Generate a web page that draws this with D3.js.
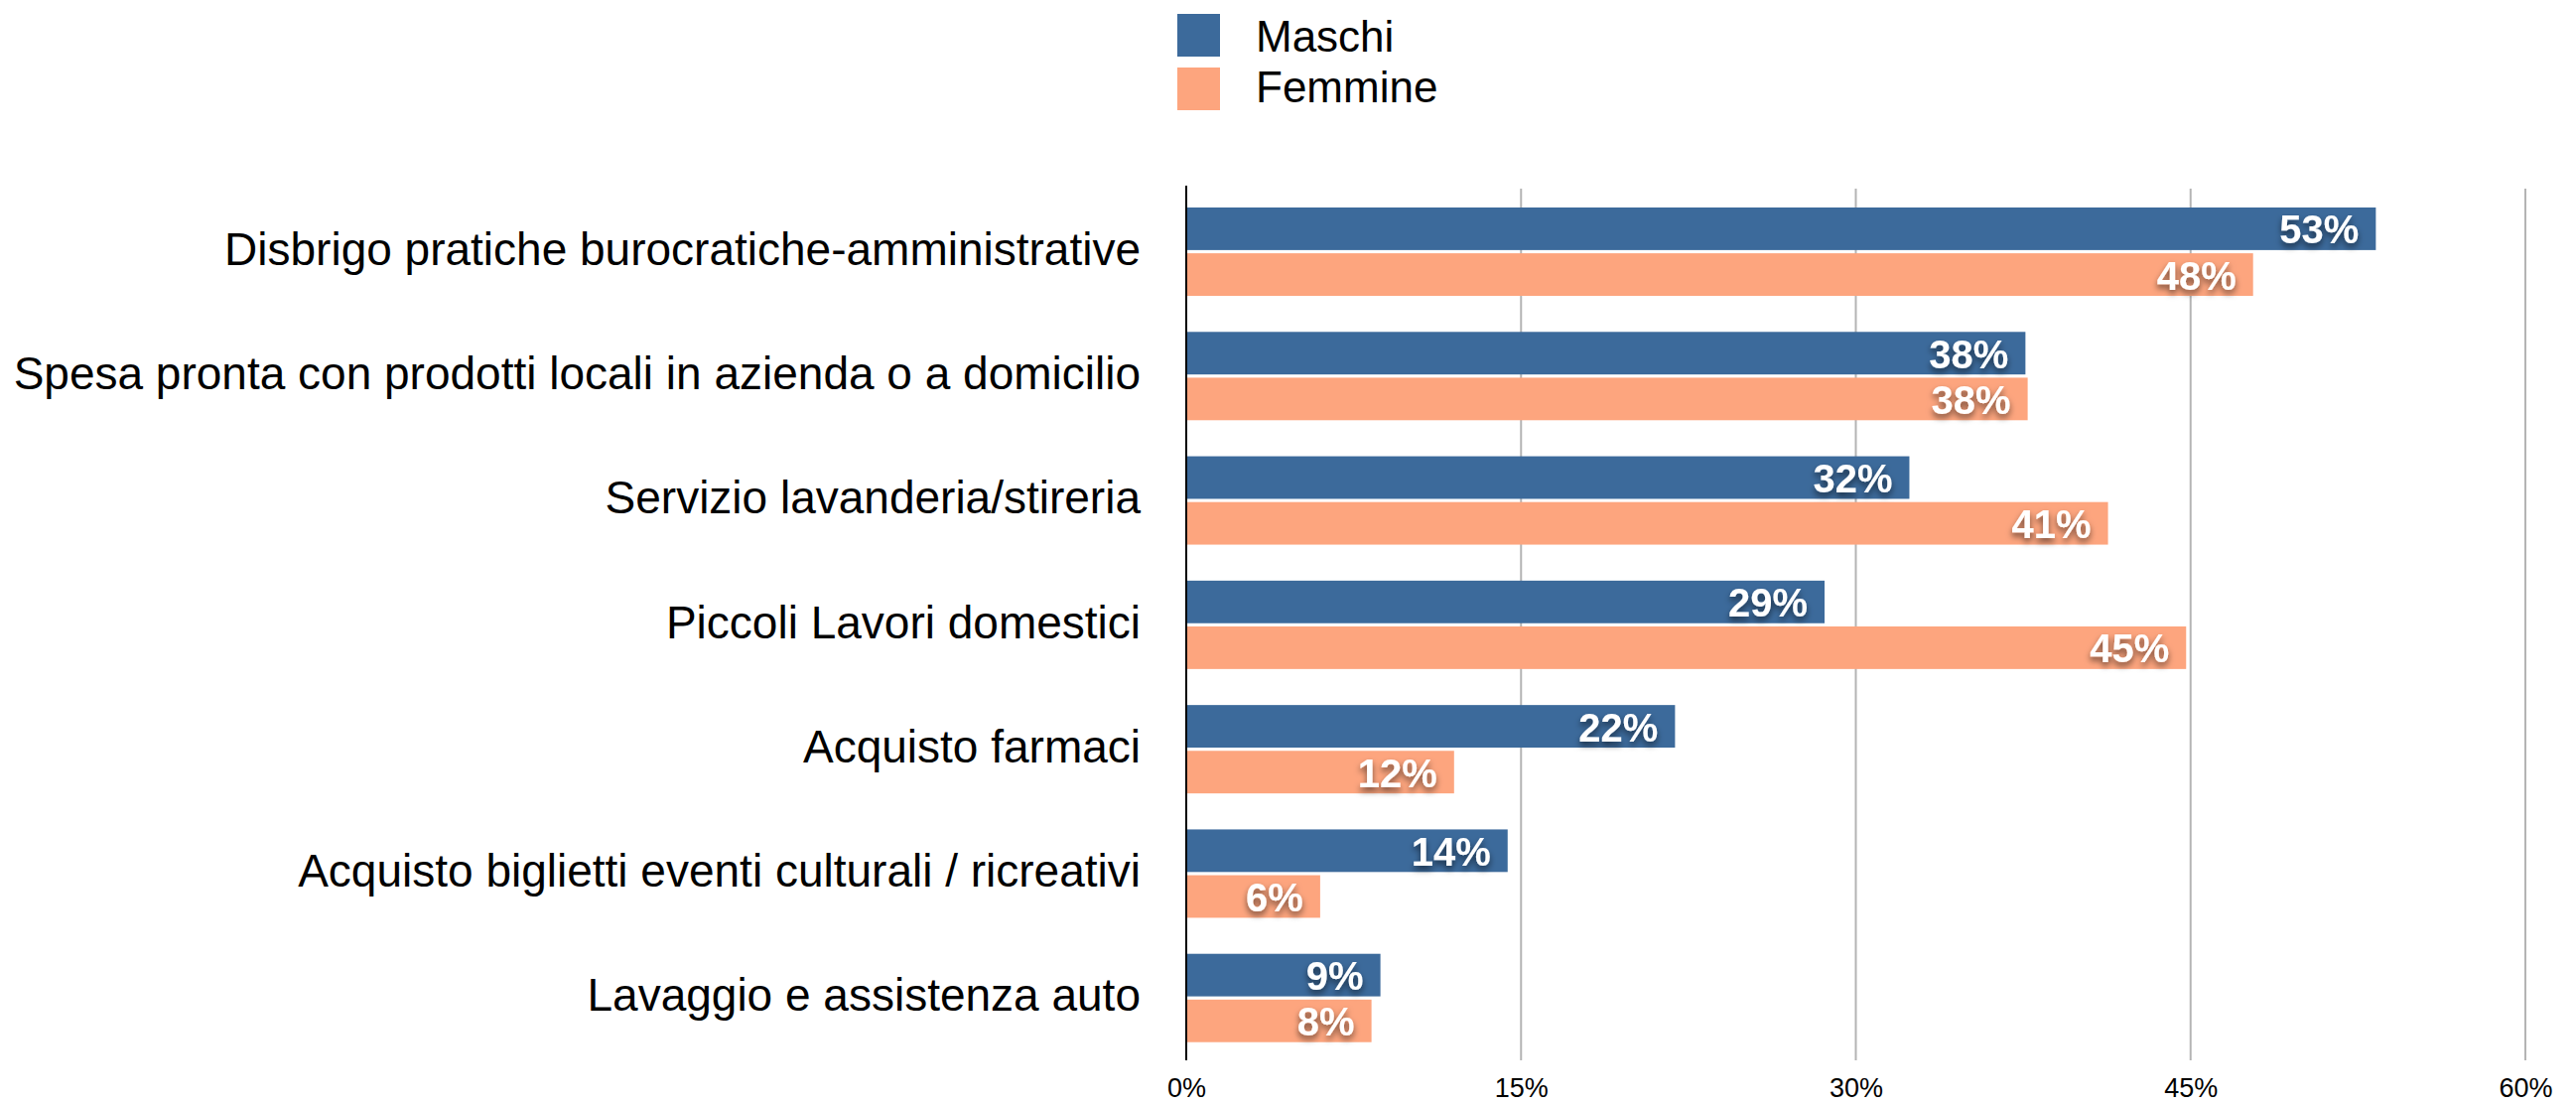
<!DOCTYPE html>
<html>
<head>
<meta charset="utf-8">
<script src="https://cdn.jsdelivr.net/npm/d3@7"></script>
<style>
  body { margin: 0; background: #fff; }
  text { font-family: "Liberation Sans", Arial, Helvetica, sans-serif; }
</style>
</head>
<body>
<script>
const width = 2595;
const height = 1112;

// categorie e valori (percentuali)
const categories = [
  'Disbrigo pratiche burocratiche-amministrative',
  'Spesa pronta con prodotti locali in azienda o a domicilio',
  'Servizio lavanderia/stireria',
  'Piccoli Lavori domestici',
  'Acquisto farmaci',
  'Acquisto biglietti eventi culturali / ricreativi',
  'Lavaggio e assistenza auto'
];
const series = ['Maschi', 'Femmine'];
const maschi = [53.3, 37.6, 32.4, 28.6, 21.9, 14.4, 8.7];
const femmine = [47.8, 37.7, 41.3, 44.8, 12.0, 6.0, 8.3];
const xTicks = [0, 15, 30, 45, 60];
const colors = ['#3c6a9b', '#fda57e'];

const rows = categories.map((c, i) => ({ cat: c, values: [maschi[i], femmine[i]] }));

const svg = d3.select('body').append('svg')
  .attr('width', width)
  .attr('height', height);

// ombra per le etichette dei valori
const filter = svg.append('defs').append('filter')
  .attr('id', 'shadow')
  .attr('x', '-20%').attr('y', '-30%')
  .attr('width', '140%').attr('height', '180%');
filter.append('feDropShadow')
  .attr('dx', 0).attr('dy', 4)
  .attr('stdDeviation', 3)
  .attr('flood-color', '#000')
  .attr('flood-opacity', 0.55);

const x = d3.scaleLinear().domain([0, 60]).range([1195, 2544]);
const y = d3.scaleBand().domain(categories).range([188, 1065]);
const yInner = d3.scaleBand().domain(series).range([21, 110]).paddingInner(0.07);

// griglia verticale
svg.selectAll('line.grid')
  .data(xTicks.filter(d => d > 0))
  .enter()
  .append('line')
  .attr('class', 'grid')
  .attr('x1', d => x(d)).attr('x2', d => x(d))
  .attr('y1', 190).attr('y2', 1068)
  .attr('stroke', '#b4b4b4')
  .attr('stroke-width', 2);

// barre
const groups = svg.selectAll('g.row')
  .data(rows)
  .enter()
  .append('g')
  .attr('class', 'row')
  .attr('transform', d => `translate(0,${y(d.cat)})`);

groups.selectAll('rect')
  .data(d => d.values.map((v, i) => ({ s: series[i], v: v, i: i })))
  .enter()
  .append('rect')
  .attr('x', x(0))
  .attr('y', d => yInner(d.s))
  .attr('width', d => x(d.v) - x(0))
  .attr('height', yInner.bandwidth())
  .attr('fill', d => colors[d.i]);

groups.selectAll('text.val')
  .data(d => d.values.map((v, i) => ({ s: series[i], v: v })))
  .enter()
  .append('text')
  .attr('class', 'val')
  .attr('x', d => x(d.v) - 17)
  .attr('y', d => yInner(d.s) + yInner.bandwidth() / 2 + 15)
  .attr('text-anchor', 'end')
  .attr('font-size', 40)
  .attr('font-weight', 'bold')
  .attr('fill', '#fff')
  .attr('filter', 'url(#shadow)')
  .text(d => Math.round(d.v) + '%');

// etichette categorie
svg.selectAll('text.cat')
  .data(categories)
  .enter()
  .append('text')
  .attr('class', 'cat')
  .attr('x', 1149)
  .attr('y', d => y(d) + y.bandwidth() / 2 + 16)
  .attr('text-anchor', 'end')
  .attr('font-size', 46)
  .attr('fill', '#000')
  .text(d => d);

// asse verticale
svg.append('line')
  .attr('x1', x(0)).attr('x2', x(0))
  .attr('y1', 187).attr('y2', 1068)
  .attr('stroke', '#000')
  .attr('stroke-width', 2);

// etichette asse x
const xAxis = d3.axisBottom(x)
  .tickValues(xTicks)
  .tickSize(0)
  .tickFormat(d => d + '%');
const gx = svg.append('g')
  .attr('transform', 'translate(0,1080)')
  .call(xAxis);
gx.select('.domain').remove();
gx.selectAll('text')
  .attr('font-size', 27)
  .attr('font-family', '"Liberation Sans", Arial, sans-serif')
  .attr('fill', '#000')
  .attr('dy', 0)
  .attr('y', 25);

// legenda
const legend = svg.append('g');
series.forEach((s, i) => {
  legend.append('rect')
    .attr('x', 1186).attr('y', 14 + i * 54)
    .attr('width', 43).attr('height', 43)
    .attr('fill', colors[i]);
  legend.append('text')
    .attr('x', 1265).attr('y', 52 + i * 51)
    .attr('font-size', 44)
    .attr('fill', '#000')
    .text(s);
});
</script>
</body>
</html>
